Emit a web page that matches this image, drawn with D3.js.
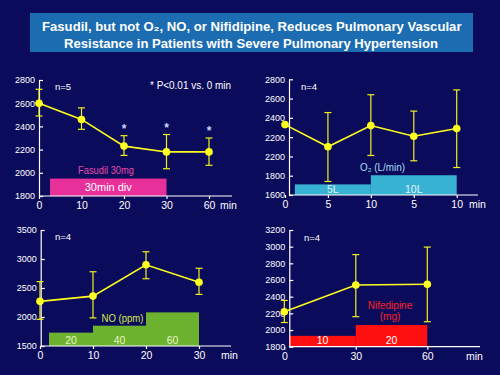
<!DOCTYPE html>
<html>
<head>
<meta charset="utf-8">
<script src="https://cdn.jsdelivr.net/npm/d3@7"></script>
<style>
  html, body { margin: 0; padding: 0; background: #0b0b5c; }
  svg { display: block; font-family: "Liberation Sans", Arial, sans-serif; }
</style>
</head>
<body>
<svg id="chart" width="500" height="375"></svg>
<script>
// ---- data ----
// Fasudil
const fasudilX = ["0", "10", "20", "30", "60"];
const fasudilMean = [2600, 2460, 2230, 2180, 2180];
const fasudilHi = [2720, 2560, 2320, 2330, 2300];
const fasudilLo = [2490, 2375, 2150, 2035, 2065];
const fasudilY = [1800, 2000, 2200, 2400, 2600, 2800];
const fasudilStars = [false, false, true, true, true];
const fasudilDose = [{ from: 0.26, to: 3, top: 1950, label: "30min div" }];

// O2
const o2X = ["0", "5", "10", "5", "10"];
const o2Mean = [2330, 2100, 2320, 2210, 2290];
const o2Hi = [null, 2455, 2640, 2470, 2690];
const o2Lo = [null, 1740, 2010, 1955, 1885];
const o2Y = [1600, 1800, 2000, 2200, 2400, 2600, 2800];
const o2YLabels = ["1600", "1800", "2200", "2200", "2400", "2600", "2800"];
const o2Dose = [
  { from: 0.23, to: 2, top: 1710, label: "5L" },
  { from: 2, to: 4, top: 1805, label: "10L" }
];

// NO
const noX = ["0", "10", "20", "30"];
const noMean = [2270, 2360, 2900, 2600];
const noHi = [2610, 2780, 3125, 2840];
const noLo = [1960, 1985, 2660, 2390];
const noY = [1500, 2000, 2500, 3000, 3500];
const noDose = [
  { from: 0.17, to: 1, top: 1730, label: "20" },
  { from: 1, to: 2, top: 1850, label: "40" },
  { from: 2, to: 3, top: 2080, label: "60" }
];

// Nifedipine
const nifX = ["0", "30", "60"];
const nifMean = [2220, 2540, 2550];
const nifHi = [2355, 2905, 2995];
const nifLo = [2090, 2160, 2100];
const nifY = [1800, 2000, 2200, 2400, 2600, 2800, 3000, 3200];
const nifDose = [
  { from: 0.07, to: 1, top: 1930, label: "10" },
  { from: 1, to: 2, top: 2060, label: "20" }
];

const svg = d3.select("#chart");

svg.append("rect").attr("width", 500).attr("height", 375).attr("fill", "#0b0b5c");

// title box
svg.append("rect")
  .attr("x", 30).attr("y", 13).attr("width", 443).attr("height", 39)
  .attr("fill", "#1c6cb2");

svg.append("text")
  .attr("x", 42).attr("y", 30.5)
  .attr("fill", "#fff").attr("font-weight", "bold").attr("font-size", 13.5)
  .attr("textLength", 419.5).attr("lengthAdjust", "spacingAndGlyphs")
  .text("Fasudil, but not O\u2082, NO, or Nifidipine, Reduces Pulmonary Vascular");

svg.append("text")
  .attr("x", 64).attr("y", 48)
  .attr("fill", "#fff").attr("font-weight", "bold").attr("font-size", 13.5)
  .attr("textLength", 374).attr("lengthAdjust", "spacingAndGlyphs")
  .text("Resistance in Patients with Severe Pulmonary Hypertension");

function panel(cfg) {
  const g = svg.append("g");
  const x = d3.scaleLinear().domain([0, cfg.xLabels.length - 1]).range(cfg.xRange);
  const y = d3.scaleLinear().domain(d3.extent(cfg.yTicks)).range(cfg.yRange);

  // dose bars
  g.selectAll("rect.dose")
    .data(cfg.dose)
    .join("rect")
    .attr("x", (d) => x(d.from))
    .attr("width", (d) => x(d.to) - x(d.from))
    .attr("y", (d) => y(d.top))
    .attr("height", (d) => y(y.domain()[0]) - y(d.top))
    .attr("fill", cfg.barColor);

  g.selectAll("text.dose")
    .data(cfg.dose)
    .join("text")
    .attr("x", (d) => (x(d.from) + x(d.to)) / 2)
    .attr("y", cfg.barLabelY)
    .attr("text-anchor", "middle")
    .attr("font-size", cfg.barLabelSize || 11)
    .attr("fill", cfg.barLabelColor)
    .text((d) => d.label);

  // y axis
  const yAxis = d3.axisLeft(y)
    .tickValues(cfg.yTicks)
    .tickSizeInner(-4).tickSizeOuter(0).tickPadding(4)
    .tickFormat((d, i) => (cfg.yLabels ? cfg.yLabels[i] : d));
  const ya = g.append("g").attr("transform", `translate(${cfg.axisX},0)`).call(yAxis);
  ya.selectAll("text").attr("fill", "#fff").attr("font-size", 9);
  ya.selectAll("line, path").attr("stroke", "#fff").attr("stroke-width", 1.2);

  // x axis
  const xAxis = d3.axisBottom(x)
    .tickValues(d3.range(cfg.xLabels.length))
    .tickSizeInner(3).tickSizeOuter(0).tickPadding(3)
    .tickFormat((d) => cfg.xLabels[d]);
  const xa = g.append("g").attr("transform", `translate(0,${cfg.yRange[0]})`).call(xAxis);
  xa.select(".domain").remove();
  xa.append("line")
    .attr("x1", cfg.axisX).attr("x2", cfg.axisEnd)
    .attr("stroke", "#fff").attr("stroke-width", 1.2);
  xa.selectAll("text").attr("fill", "#fff").attr("font-size", 10.5);
  xa.selectAll("line").attr("stroke", "#fff").attr("stroke-width", 1.2);

  g.append("text")
    .attr("x", cfg.minX).attr("y", cfg.yRange[0] + 13)
    .attr("fill", "#fff").attr("font-size", 10.5)
    .text("min");

  // error bars
  const pts = cfg.mean.map((m, i) => ({ i, m, hi: cfg.hi[i], lo: cfg.lo[i] }));
  const eb = g.selectAll("g.err")
    .data(pts.filter((d) => d.hi != null))
    .join("g")
    .attr("stroke", "#f0f020").attr("stroke-width", 1.2);
  eb.append("line")
    .attr("x1", (d) => x(d.i)).attr("x2", (d) => x(d.i))
    .attr("y1", (d) => y(d.hi)).attr("y2", (d) => y(d.lo));
  eb.append("line")
    .attr("x1", (d) => x(d.i) - 3.5).attr("x2", (d) => x(d.i) + 3.5)
    .attr("y1", (d) => y(d.hi)).attr("y2", (d) => y(d.hi));
  eb.append("line")
    .attr("x1", (d) => x(d.i) - 3.5).attr("x2", (d) => x(d.i) + 3.5)
    .attr("y1", (d) => y(d.lo)).attr("y2", (d) => y(d.lo));

  // mean line
  g.append("path")
    .datum(pts)
    .attr("fill", "none")
    .attr("stroke", "#ffff20")
    .attr("stroke-width", 1.6)
    .attr("d", d3.line().x((d) => x(d.i)).y((d) => y(d.m)));

  g.selectAll("circle")
    .data(pts)
    .join("circle")
    .attr("cx", (d) => x(d.i)).attr("cy", (d) => y(d.m))
    .attr("r", 3.8)
    .attr("fill", "#ffff20");

  if (cfg.stars) {
    g.selectAll("text.star")
      .data(pts.filter((d) => cfg.stars[d.i]))
      .join("text")
      .attr("x", (d) => x(d.i)).attr("y", (d) => y(d.hi) - 3)
      .attr("text-anchor", "middle")
      .attr("font-size", 12).attr("font-weight", "bold")
      .attr("fill", "#c8d4ff")
      .text("*");
  }

  g.append("text")
    .attr("x", cfg.nPos[0]).attr("y", cfg.nPos[1])
    .attr("fill", "#fff").attr("font-size", 9.5)
    .text(cfg.n);

  return { g, x, y };
}

// top-left: fasudil
const p1 = panel({
  xLabels: fasudilX, mean: fasudilMean, hi: fasudilHi, lo: fasudilLo,
  yTicks: fasudilY, dose: fasudilDose, stars: fasudilStars,
  xRange: [39, 209], yRange: [196, 80], axisX: 39, axisEnd: 232, minX: 220,
  barColor: "#e8309a", barLabelColor: "#fff", barLabelY: 191,
  n: "n=5", nPos: [55, 89.5]
});
p1.g.append("text")
  .attr("x", 150).attr("y", 88.5).attr("fill", "#fff").attr("font-size", 10)
  .attr("textLength", 81).attr("lengthAdjust", "spacingAndGlyphs")
  .text("* P<0.01 vs. 0 min");
p1.g.append("text")
  .attr("x", 78).attr("y", 173.5).attr("fill", "#e848a8").attr("font-size", 11)
  .attr("textLength", 56).attr("lengthAdjust", "spacingAndGlyphs")
  .text("Fasudil 30mg");

// top-right: O2
const p2 = panel({
  xLabels: o2X, mean: o2Mean, hi: o2Hi, lo: o2Lo,
  yTicks: o2Y, yLabels: o2YLabels, dose: o2Dose,
  xRange: [285, 456.7], yRange: [195, 79.3], axisX: 289, axisEnd: 478, minX: 469,
  barColor: "#38b2d2", barLabelColor: "#e0f4ff", barLabelY: 192.5, barLabelSize: 10.5,
  n: "n=4", nPos: [301, 90]
});
p2.g.append("text")
  .attr("x", 360).attr("y", 171).attr("fill", "#a8dcf4").attr("font-size", 10.5)
  .attr("textLength", 45).attr("lengthAdjust", "spacingAndGlyphs")
  .text("O\u2082 (L/min)");

// bottom-left: NO
const p3 = panel({
  xLabels: noX, mean: noMean, hi: noHi, lo: noLo,
  yTicks: noY, dose: noDose,
  xRange: [40, 199], yRange: [346, 230], axisX: 40.7, axisEnd: 231, minX: 221,
  barColor: "#6cb22e", barLabelColor: "#e8f8c8", barLabelY: 343.5, barLabelSize: 10.5,
  n: "n=4", nPos: [55, 240]
});
p3.g.append("text")
  .attr("x", 101.5).attr("y", 322).attr("fill", "#d8e848").attr("font-size", 10.5)
  .attr("textLength", 42).attr("lengthAdjust", "spacingAndGlyphs")
  .text("NO (ppm)");

// bottom-right: nifedipine
const p4 = panel({
  xLabels: nifX, mean: nifMean, hi: nifHi, lo: nifLo,
  yTicks: nifY, dose: nifDose,
  xRange: [284.3, 427.3], yRange: [346.7, 230], axisX: 289.3, axisEnd: 480, minX: 466,
  barColor: "#ff1010", barLabelColor: "#fff", barLabelY: 344, barLabelSize: 10.5,
  n: "n=4", nPos: [304, 241]
});
p4.g.append("text")
  .attr("x", 390).attr("y", 309).attr("text-anchor", "middle")
  .attr("fill", "#ff2020").attr("font-size", 10)
  .text("Nifedipine");
p4.g.append("text")
  .attr("x", 390).attr("y", 320).attr("text-anchor", "middle")
  .attr("fill", "#ff2020").attr("font-size", 10)
  .text("(mg)");
</script>
</body>
</html>
